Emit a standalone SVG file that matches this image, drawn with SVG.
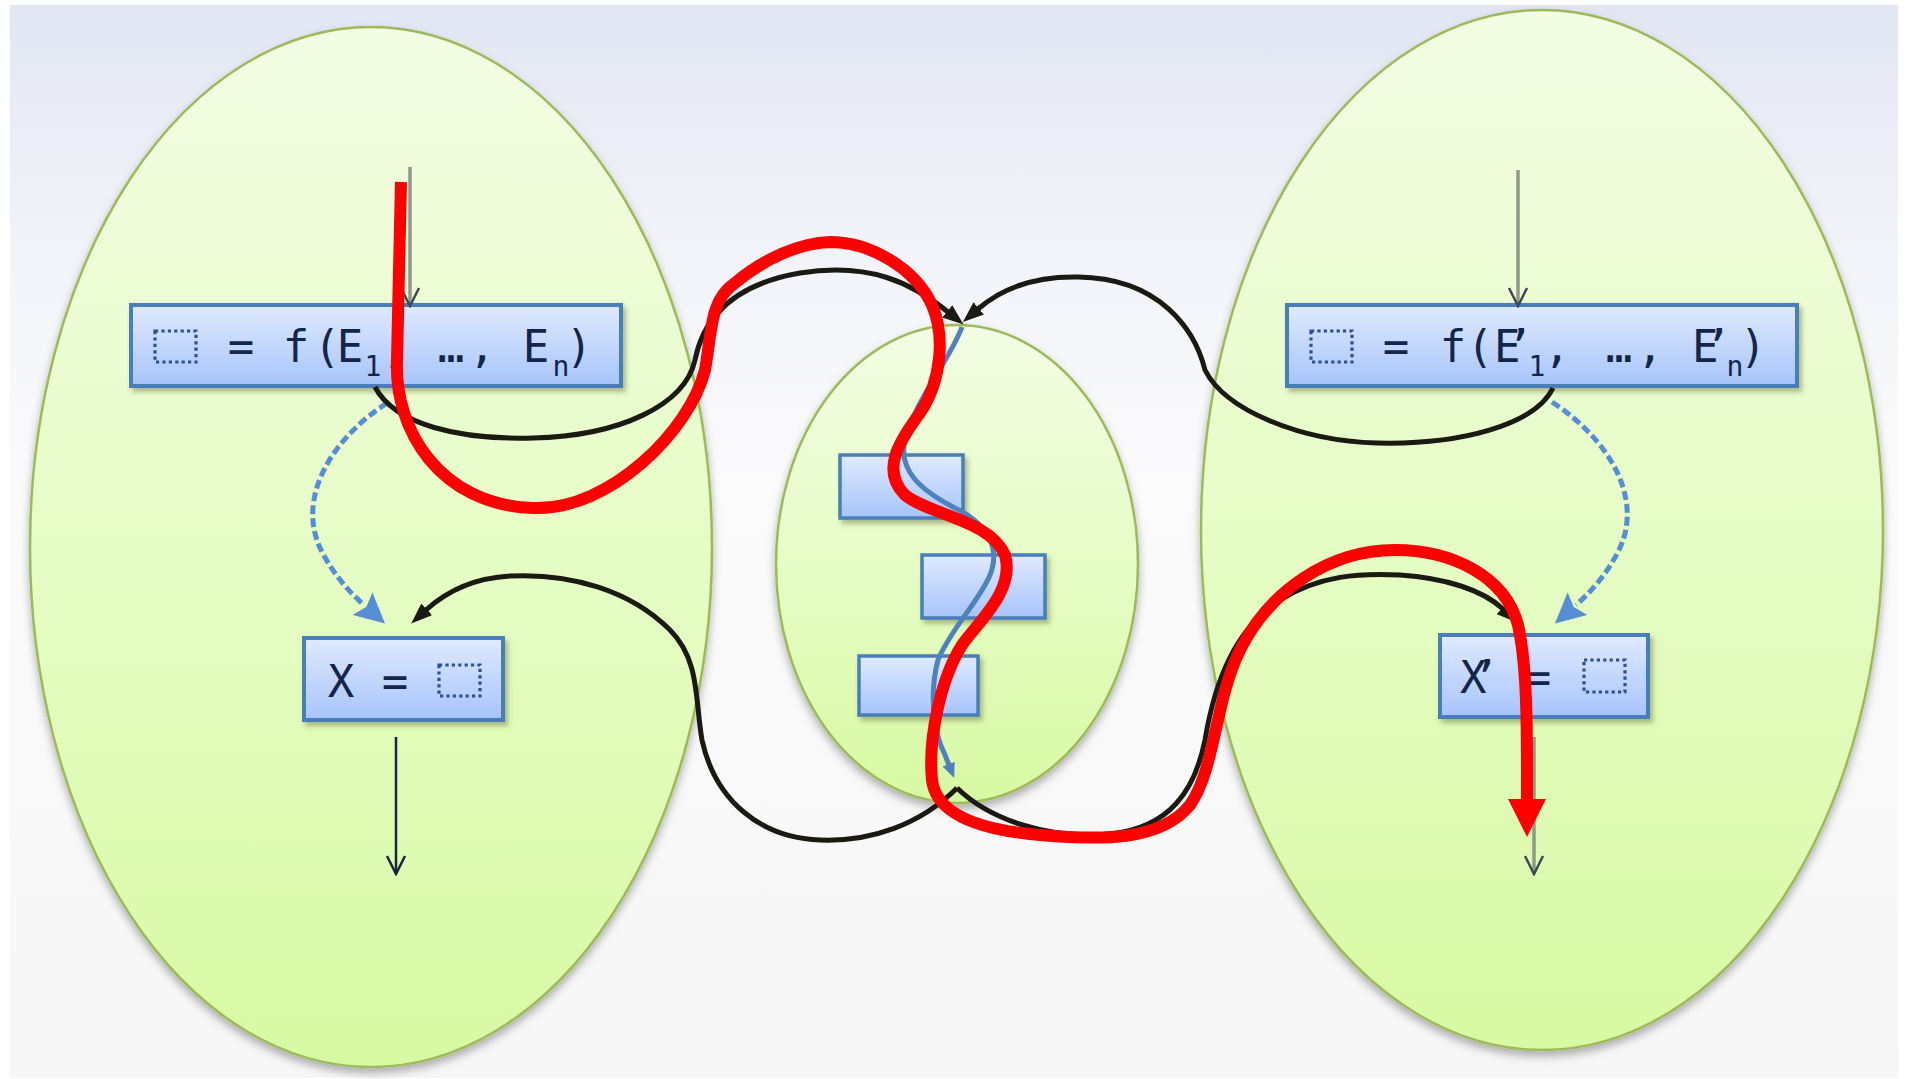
<svg xmlns="http://www.w3.org/2000/svg" width="1907" height="1079" viewBox="0 0 1907 1079">
  <defs>
    <linearGradient id="bgGrad" x1="0" y1="0" x2="0" y2="1">
      <stop offset="0" stop-color="#e2e6f3"/>
      <stop offset="0.22" stop-color="#f2f3f9"/>
      <stop offset="0.45" stop-color="#fbfbfc"/>
      <stop offset="1" stop-color="#f6f6f6"/>
    </linearGradient>
    <linearGradient id="ovalGrad" x1="0" y1="0" x2="0" y2="1">
      <stop offset="0" stop-color="#f3fde4"/>
      <stop offset="0.5" stop-color="#e6fcc6"/>
      <stop offset="1" stop-color="#d8f9a3"/>
    </linearGradient>
    <linearGradient id="boxGrad" x1="0" y1="0" x2="0" y2="1">
      <stop offset="0" stop-color="#e0eaff"/>
      <stop offset="1" stop-color="#a6c4fa"/>
    </linearGradient>
    <filter id="ovalShadow" x="-10%" y="-10%" width="120%" height="120%">
      <feDropShadow dx="0" dy="5" stdDeviation="4" flood-color="#000" flood-opacity="0.3"/>
    </filter>
    <filter id="boxShadow" x="-10%" y="-20%" width="120%" height="150%">
      <feDropShadow dx="3" dy="4" stdDeviation="2.5" flood-color="#4f5a2a" flood-opacity="0.4"/>
    </filter>
    <marker id="headBlack" markerUnits="userSpaceOnUse" viewBox="0 0 21 16" markerWidth="21" markerHeight="16" refX="1" refY="8" orient="auto">
      <path d="M0,0 L21,8 L0,16 z" fill="#1b1a12"/>
    </marker>
    <marker id="headBlue" markerUnits="userSpaceOnUse" viewBox="0 0 15 13" markerWidth="15" markerHeight="13" refX="1" refY="6.5" orient="auto">
      <path d="M0,0 L15,6.5 L0,13 z" fill="#4f81bd"/>
    </marker>
    <marker id="headDash" markerUnits="userSpaceOnUse" viewBox="0 0 30 30" markerWidth="30" markerHeight="30" refX="2" refY="15" orient="auto">
      <path d="M0,0 L30,15 L0,30 L5,15 z" fill="#558ed5"/>
    </marker>
    <marker id="headRed" markerUnits="userSpaceOnUse" viewBox="0 0 40 40" markerWidth="40" markerHeight="40" refX="1" refY="20" orient="auto">
      <path d="M0,1 L38,20 L0,39 z" fill="#ff0000"/>
    </marker>
    <marker id="headOpenDark" markerUnits="userSpaceOnUse" viewBox="-2 -12 22 24" markerWidth="22" markerHeight="24" refX="18" refY="0" orient="auto">
      <path d="M0,-9 L18,0 L0,9" fill="none" stroke="#1a2742" stroke-width="2.5"/>
    </marker>
    <marker id="headOpenGrey" markerUnits="userSpaceOnUse" viewBox="-2 -12 22 24" markerWidth="22" markerHeight="24" refX="18" refY="0" orient="auto">
      <path d="M0,-9 L18,0 L0,9" fill="none" stroke="#3e4a50" stroke-width="2.5"/>
    </marker>
    <style>
      .oval { fill: url(#ovalGrad); stroke: #9bbb59; stroke-width: 2.5; filter: url(#ovalShadow); }
      .box { fill: url(#boxGrad); stroke: #4a7ebb; stroke-width: 4; filter: url(#boxShadow); }
      .mini { fill: url(#boxGrad); stroke: #4a7ebb; stroke-width: 3.5; filter: url(#boxShadow); }
      .code { font-family: "DejaVu Sans Mono", "Liberation Mono", monospace; font-size: 44px; fill: #14254a; text-anchor: middle; }
      .lead { text-anchor: start; letter-spacing: -14px; }
      .sub { font-size: 28px; }
      .hole { fill: none; stroke: #2d4f95; stroke-width: 3.2; stroke-dasharray: 3.2 3.2; }
      .flow { fill: none; stroke: #1b1a12; stroke-width: 5; marker-end: url(#headBlack); }
      .dash { fill: none; stroke: #558ed5; stroke-width: 5; stroke-dasharray: 9 4; marker-end: url(#headDash); }
      .inner { fill: none; stroke: #4f81bd; stroke-width: 5; marker-end: url(#headBlue); }
      .seqIn { fill: none; stroke: #8e998a; stroke-width: 3.5; marker-end: url(#headOpenGrey); }
      .seqOut { fill: none; stroke: #1a2742; stroke-width: 2.5; marker-end: url(#headOpenDark); }
      .path { fill: none; stroke: #ff0000; stroke-width: 12; stroke-linejoin: round; marker-end: url(#headRed); }
    </style>
  </defs>

  <!-- backdrop -->
  <rect x="0" y="0" width="1907" height="1079" fill="#ffffff"/>
  <rect x="10" y="5" width="1888" height="1073" fill="url(#bgGrad)"/>

  <!-- caller scope -->
  <g id="caller">
    <ellipse class="oval" cx="371" cy="547" rx="341" ry="520"/>
  </g>

  <!-- callee body -->
  <g id="callee">
    <ellipse class="oval" cx="957" cy="564" rx="181" ry="239"/>
  </g>

  <!-- second call site scope -->
  <g id="caller2">
    <ellipse class="oval" cx="1542" cy="530" rx="341" ry="520"/>
  </g>

  <!-- call statement, first site -->
  <g id="call1">
    <rect class="box" x="131" y="305" width="490" height="81"/>
    <rect class="hole" x="155" y="331" width="41" height="31"/>
    <text class="code" y="362"><tspan x="241">=</tspan><tspan x="296">f</tspan><tspan x="327">(</tspan><tspan x="350">E</tspan><tspan class="sub" x="373" y="376">1</tspan><tspan x="395" y="362">,</tspan><tspan x="451">…</tspan><tspan x="482">,</tspan><tspan x="536">E</tspan><tspan class="sub" x="561" y="376">n</tspan><tspan x="579" y="362">)</tspan></text>
  </g>

  <!-- return assignment, first site -->
  <g id="ret1">
    <rect class="box" x="304" y="638" width="199" height="82"/>
    <text class="code" y="697"><tspan x="341">X</tspan><tspan x="395">=</tspan></text>
    <rect class="hole" x="439" y="665" width="41" height="31"/>
  </g>

  <!-- call statement, second site -->
  <g id="call2">
    <rect class="box" x="1287" y="305" width="510" height="81"/>
    <rect class="hole" x="1311" y="331" width="41" height="31"/>
    <text class="code" y="362"><tspan x="1396">=</tspan><tspan x="1453">f</tspan><tspan x="1480">(</tspan><tspan class="lead" x="1494">E’</tspan><tspan class="sub" x="1537" y="376">1</tspan><tspan x="1557" y="362">,</tspan><tspan x="1619">…</tspan><tspan x="1650">,</tspan><tspan class="lead" x="1692">E’</tspan><tspan class="sub" x="1735" y="376">n</tspan><tspan x="1753" y="362">)</tspan></text>
  </g>

  <!-- return assignment, second site -->
  <g id="ret2">
    <rect class="box" x="1440" y="635" width="208" height="82"/>
    <text class="code" y="693"><tspan class="lead" x="1460">X’</tspan><tspan x="1538">=</tspan></text>
    <rect class="hole" x="1584" y="660" width="41" height="32"/>
  </g>

  <!-- statements inside the callee -->
  <g id="stmt1">
    <rect class="mini" x="840" y="455" width="123" height="63"/>
  </g>
  <g id="stmt2">
    <rect class="mini" x="922" y="555" width="123" height="63"/>
  </g>
  <g id="stmt3">
    <rect class="mini" x="859" y="656" width="119" height="59"/>
  </g>

  <g id="connectors">
    <!-- sequential flow into and out of the sites -->
    <path class="seqIn" d="M410 167 L410 306"/>
    <path class="seqIn" d="M1518 170 L1518 306"/>
    <path class="seqOut" d="M396 737 L396 874"/>
    <path class="seqIn" d="M1534 737 L1534 874"/>

    <!-- call-to-return summary edges -->
    <path class="dash" d="M387 403 C330 440 295 500 322 552 C333 573 347 590 364 605"/>
    <path class="dash" d="M1552 402 C1610 440 1645 500 1618 552 C1607 573 1593 590 1576 605"/>

    <!-- call edges into the callee entry -->
    <path class="flow" d="M375 387 C395 425 460 440 533 438 C620 436 685 405 695 360 C703 320 730 285 800 273 C870 262 912 283 948 312"/>
    <path class="flow" d="M1553 388 C1535 425 1460 445 1377 443 C1300 441 1225 410 1205 370 C1195 330 1160 278 1078 277 C1030 276 1000 290 978 309"/>

    <!-- return edges from the callee exit -->
    <path class="flow" d="M957 788 C920 825 870 842 820 840 C760 838 715 800 702 740 C695 700 700 660 670 630 C630 590 570 573 510 576 C475 578 448 590 426 610"/>
    <path class="flow" d="M957 788 C990 820 1050 840 1110 834 C1170 828 1195 790 1205 740 C1215 680 1235 630 1280 600 C1320 575 1360 573 1400 575 C1445 578 1483 590 1503 609"/>

    <!-- intraprocedural path through the callee -->
    <path class="inner" d="M962 327 C950 360 915 400 905 440 C898 470 920 490 955 508 C990 525 1000 550 990 575 C980 600 950 630 938 660 C930 690 932 730 945 755 L949 765"/>

    <!-- realizable path -->
    <path class="path" d="M401 182 L397 360 C394 430 440 505 533 508 C610 511 690 430 705 370 C712 330 710 300 735 283 C765 258 800 243 830 242 C870 242 915 268 932 305 C945 335 942 380 920 413 C900 440 880 470 905 495 C930 515 990 520 1005 555 C1015 590 980 620 962 645 C940 680 928 740 932 780 C936 815 980 830 1040 835 C1100 840 1160 842 1190 805 C1215 770 1215 700 1240 650 C1270 590 1330 550 1395 550 C1450 550 1505 575 1518 625 C1528 670 1527 740 1527 800"/>
  </g>
</svg>
